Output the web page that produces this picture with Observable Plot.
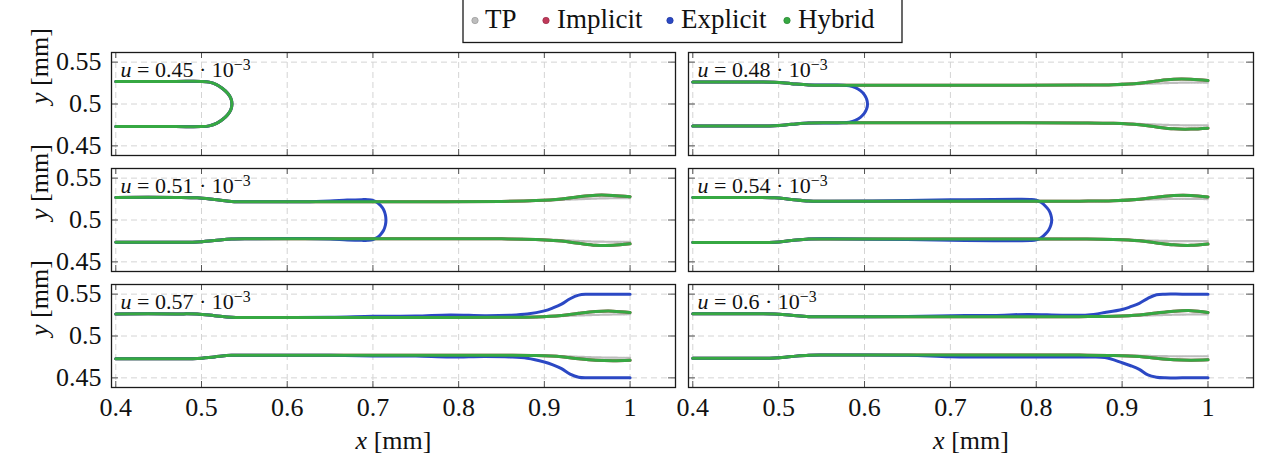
<!DOCTYPE html>
<html>
<head>
<meta charset="utf-8">
<script src="https://cdn.jsdelivr.net/npm/d3@7"></script>
<script src="https://cdn.jsdelivr.net/npm/@observablehq/plot@0.6"></script>
<style>
  body { margin: 0; background: #fff; }
  #chart { position: relative; width: 1261px; height: 468px; overflow: hidden; background: #fff; }
  #chart svg { position: absolute; }
</style>
</head>
<body>
<div id="chart"></div>
<script>
// ---------- categories / ticks ----------
const series = ["TP", "Implicit", "Explicit", "Hybrid"];
const seriesColors = ["#bdbdbd", "#c0395a", "#2b48c4", "#36a842"];
const loads = ["0.45", "0.48", "0.51", "0.54", "0.57", "0.6"];
const xTicks = [0.4, 0.5, 0.6, 0.7, 0.8, 0.9, 1];
const yTicks = [0.45, 0.5, 0.55];

// ---------- u = 0.45e-3 : all methods give the same short crack ----------
const tipX045 = [0.4, 0.47, 0.4995, 0.509, 0.5175, 0.5245, 0.5305, 0.5342, 0.5355, 0.5342, 0.5305, 0.5245, 0.5175, 0.509, 0.4995, 0.47, 0.4];
const tipY045 = [0.527, 0.527, 0.527, 0.5261, 0.5232, 0.5185, 0.5128, 0.5068, 0.5, 0.4932, 0.4872, 0.4815, 0.4768, 0.4739, 0.473, 0.473, 0.473];

// ---------- x stations of the full-length crack faces ----------
const xFace = [0.4, 0.47, 0.495, 0.515, 0.535, 0.56, 0.65, 0.75, 0.85, 0.89, 0.92, 0.94, 0.96, 0.98, 1.0];

// Hybrid (and Implicit, which lies underneath) crack faces
const hybUp048 = [0.5262, 0.5262, 0.526, 0.5243, 0.5228, 0.5225, 0.5225, 0.5225, 0.5226, 0.5231, 0.5248, 0.5275, 0.5295, 0.5295, 0.528];
const hybLo048 = [0.4738, 0.4738, 0.474, 0.4757, 0.4772, 0.4775, 0.4775, 0.4775, 0.4774, 0.4769, 0.4752, 0.4725, 0.4703, 0.47, 0.4711];
const hybUp051 = [0.527, 0.527, 0.5265, 0.5245, 0.5222, 0.5218, 0.5218, 0.5218, 0.5222, 0.5232, 0.5252, 0.5278, 0.5296, 0.5294, 0.5278];
const hybLo051 = [0.4735, 0.4735, 0.4737, 0.4755, 0.4774, 0.4777, 0.4777, 0.4777, 0.4775, 0.4768, 0.4748, 0.4722, 0.4699, 0.4698, 0.4715];
const hybUp054 = [0.5268, 0.5268, 0.5265, 0.5245, 0.5226, 0.5224, 0.5224, 0.5224, 0.5225, 0.523, 0.5248, 0.5272, 0.5292, 0.5293, 0.5276];
const hybLo054 = [0.4732, 0.4732, 0.4735, 0.4755, 0.4772, 0.4774, 0.4774, 0.4774, 0.4773, 0.4768, 0.4752, 0.4726, 0.4703, 0.4697, 0.4712];
const hybUp057 = [0.5264, 0.5264, 0.5262, 0.5243, 0.5223, 0.5221, 0.5221, 0.5222, 0.5223, 0.5227, 0.5245, 0.5272, 0.5293, 0.5297, 0.528];
const hybLo057 = [0.4729, 0.4729, 0.4731, 0.475, 0.4769, 0.4771, 0.4771, 0.4771, 0.4769, 0.4766, 0.4752, 0.4728, 0.471, 0.4704, 0.4709];
const hybUp060 = [0.5266, 0.5266, 0.5264, 0.5247, 0.5231, 0.523, 0.523, 0.523, 0.5231, 0.5235, 0.525, 0.5275, 0.5296, 0.5303, 0.5281];
const hybLo060 = [0.4734, 0.4734, 0.4736, 0.4755, 0.4771, 0.4773, 0.4773, 0.4773, 0.4772, 0.4768, 0.4755, 0.4733, 0.4716, 0.4711, 0.4715];

// TP crack faces
const tpUp048 = [0.5262, 0.5262, 0.526, 0.5243, 0.5228, 0.5225, 0.5225, 0.5225, 0.5226, 0.5229, 0.5238, 0.5245, 0.5252, 0.5256, 0.5255];
const tpLo048 = [0.4738, 0.4738, 0.474, 0.4757, 0.4772, 0.4775, 0.4775, 0.4775, 0.4774, 0.4771, 0.4762, 0.4755, 0.4748, 0.4745, 0.4745];
const tpUp051 = [0.527, 0.527, 0.5265, 0.5245, 0.5222, 0.5218, 0.5218, 0.5218, 0.5222, 0.5228, 0.524, 0.5248, 0.5256, 0.526, 0.526];
const tpLo051 = [0.4735, 0.4735, 0.4737, 0.4755, 0.4774, 0.4777, 0.4777, 0.4777, 0.4775, 0.4771, 0.476, 0.475, 0.4742, 0.474, 0.474];
const tpUp054 = [0.5268, 0.5268, 0.5265, 0.5245, 0.5226, 0.5224, 0.5224, 0.5224, 0.5225, 0.5228, 0.524, 0.5247, 0.5252, 0.5252, 0.525];
const tpLo054 = [0.4732, 0.4732, 0.4735, 0.4755, 0.4772, 0.4774, 0.4774, 0.4774, 0.4773, 0.4771, 0.476, 0.4753, 0.4748, 0.4747, 0.4747];
const tpUp057 = [0.5264, 0.5264, 0.5262, 0.5243, 0.5223, 0.5221, 0.5221, 0.5222, 0.5223, 0.5226, 0.5238, 0.5245, 0.5252, 0.5257, 0.526];
const tpLo057 = [0.4729, 0.4729, 0.4731, 0.475, 0.4769, 0.4771, 0.4771, 0.4771, 0.4769, 0.4767, 0.476, 0.4752, 0.4745, 0.4741, 0.474];
const tpUp060 = [0.5266, 0.5266, 0.5264, 0.5247, 0.5231, 0.523, 0.523, 0.523, 0.5231, 0.5233, 0.5241, 0.5248, 0.5254, 0.5257, 0.5258];
const tpLo060 = [0.4734, 0.4734, 0.4736, 0.4755, 0.4771, 0.4773, 0.4773, 0.4773, 0.4772, 0.477, 0.4765, 0.476, 0.4758, 0.4758, 0.4758];

// Explicit: crack tip contours (closed around the tip)
const expTipX048 = [0.4, 0.47, 0.495, 0.515, 0.535, 0.56, 0.575, 0.5824, 0.5893, 0.5952, 0.5997, 0.6025, 0.6035, 0.6025, 0.5997, 0.5952, 0.5893, 0.5824, 0.575, 0.56, 0.535, 0.515, 0.495, 0.47, 0.4];
const expTipY048 = [0.5262, 0.5262, 0.526, 0.5243, 0.5228, 0.5226, 0.5225, 0.5217, 0.5195, 0.5159, 0.5113, 0.5058, 0.5, 0.4942, 0.4887, 0.4841, 0.4805, 0.4783, 0.4775, 0.4774, 0.4772, 0.4757, 0.474, 0.4738, 0.4738];
const expTipX051 = [0.4, 0.47, 0.495, 0.515, 0.535, 0.56, 0.62, 0.65, 0.67, 0.687, 0.694, 0.7, 0.705, 0.709, 0.7125, 0.7145, 0.7152, 0.7145, 0.7125, 0.709, 0.705, 0.7, 0.694, 0.687, 0.67, 0.65, 0.62, 0.56, 0.535, 0.515, 0.495, 0.47, 0.4];
const expTipY051 = [0.527, 0.527, 0.5265, 0.5245, 0.5222, 0.5218, 0.5219, 0.5228, 0.5238, 0.5243, 0.5243, 0.5235, 0.521, 0.5172, 0.5122, 0.5063, 0.5, 0.4937, 0.4878, 0.4828, 0.479, 0.4765, 0.4757, 0.4757, 0.4762, 0.4772, 0.4779, 0.4777, 0.4774, 0.4755, 0.4737, 0.4735, 0.4735];
const expTipX054 = [0.4, 0.47, 0.495, 0.515, 0.535, 0.56, 0.65, 0.7, 0.75, 0.78, 0.793, 0.8, 0.806, 0.8105, 0.8145, 0.817, 0.818, 0.817, 0.8145, 0.8105, 0.806, 0.8, 0.793, 0.78, 0.75, 0.7, 0.65, 0.56, 0.535, 0.515, 0.495, 0.47, 0.4];
const expTipY054 = [0.5268, 0.5268, 0.5265, 0.5245, 0.5226, 0.5224, 0.5233, 0.5241, 0.5246, 0.5248, 0.5246, 0.5238, 0.5208, 0.5168, 0.512, 0.5062, 0.5, 0.4938, 0.488, 0.4832, 0.4792, 0.4762, 0.4754, 0.4752, 0.4753, 0.4758, 0.4766, 0.4776, 0.4774, 0.4755, 0.4735, 0.4732, 0.4732];

// Explicit: fully branched crack faces
const xExp = [0.4, 0.47, 0.495, 0.515, 0.535, 0.56, 0.65, 0.7, 0.75, 0.79, 0.83, 0.86, 0.88, 0.9, 0.91, 0.92, 0.93, 0.94, 0.95, 0.97, 1.0];
const expUp057 = [0.5264, 0.5264, 0.5262, 0.5243, 0.5223, 0.5221, 0.5224, 0.5235, 0.5238, 0.5252, 0.5243, 0.5248, 0.5262, 0.53, 0.5335, 0.538, 0.5445, 0.5488, 0.5498, 0.5498, 0.5498];
const expLo057 = [0.4729, 0.4729, 0.4731, 0.475, 0.4769, 0.4771, 0.477, 0.4762, 0.476, 0.4748, 0.4755, 0.475, 0.4735, 0.4689, 0.4655, 0.461, 0.4545, 0.4508, 0.4501, 0.4501, 0.4501];
const expUp060 = [0.5266, 0.5266, 0.5264, 0.5247, 0.5231, 0.523, 0.5233, 0.5243, 0.5245, 0.5258, 0.5249, 0.5252, 0.528, 0.5316, 0.535, 0.539, 0.545, 0.5492, 0.55, 0.55, 0.55];
const expLo060 = [0.4734, 0.4734, 0.4736, 0.4755, 0.4771, 0.4773, 0.4771, 0.4752, 0.475, 0.4748, 0.475, 0.4748, 0.4742, 0.468, 0.4645, 0.4602, 0.4535, 0.4508, 0.45, 0.45, 0.45];

// ---------- build per-panel tables ----------
const zip = (xs, ys) => xs.map((x, i) => [x, ys[i]]);
function panelCurves(i) {
  const c = {TP: [], Implicit: [], Explicit: [], Hybrid: []};
  if (i === 0) {
    const tip = zip(tipX045, tipY045);
    for (const s of series) c[s].push(tip);
    return c;
  }
  const hU = [null, hybUp048, hybUp051, hybUp054, hybUp057, hybUp060][i];
  const hL = [null, hybLo048, hybLo051, hybLo054, hybLo057, hybLo060][i];
  const tU = [null, tpUp048, tpUp051, tpUp054, tpUp057, tpUp060][i];
  const tL = [null, tpLo048, tpLo051, tpLo054, tpLo057, tpLo060][i];
  c.TP.push(zip(xFace, tU), zip(xFace, tL));
  c.Implicit.push(zip(xFace, hU), zip(xFace, hL));
  c.Hybrid.push(zip(xFace, hU), zip(xFace, hL));
  if (i === 1) c.Explicit.push(zip(expTipX048, expTipY048));
  if (i === 2) c.Explicit.push(zip(expTipX051, expTipY051));
  if (i === 3) c.Explicit.push(zip(expTipX054, expTipY054));
  if (i === 4) c.Explicit.push(zip(xExp, expUp057), zip(xExp, expLo057));
  if (i === 5) c.Explicit.push(zip(xExp, expUp060), zip(xExp, expLo060));
  return c;
}

const FONT = "Liberation Serif";
const frameTops = [52, 168, 284];
const innerH = 103;

function mathify(svg) {
  d3.select(svg).selectAll("text").each(function () {
    const s = this.textContent;
    let m;
    if ((m = /^u = (.+) · 10−3$/.exec(s))) {
      const el = d3.select(this).text(null);
      el.append("tspan").attr("font-style", "italic").text("u");
      el.append("tspan").text(" = " + m[1] + " · 10");
      el.append("tspan").attr("dy", "-0.42em").attr("font-size", "0.72em").text("−3");
    } else if (/^[xy] \[mm\]$/.test(s)) {
      const el = d3.select(this).text(null);
      el.append("tspan").attr("font-style", "italic").text(s[0]);
      el.append("tspan").text(s.slice(1));
    }
  });
}

const chart = document.getElementById("chart");

for (let i = 0; i < 6; i++) {
  const col = i % 2, row = Math.floor(i / 2);
  const isLeft = col === 0, isBottom = row === 2;
  const width = isLeft ? 680 : 581;
  const marginLeft = isLeft ? 111 : 8;
  const marginRight = isLeft ? 5 : 8;
  const marginTop = 6;
  const marginBottom = isBottom ? 76 : 6;
  const height = marginTop + innerH + marginBottom;
  const innerW = width - marginLeft - marginRight;

  const curves = panelCurves(i);
  const rows = [];
  series.forEach((s) => curves[s].forEach((pts, k) => pts.forEach(([x, y]) => rows.push({s, k, x, y}))));

  const marks = [
    Plot.gridX(xTicks, {stroke: "#d4d4d4", strokeOpacity: 1, strokeDasharray: "6,4"}),
    Plot.gridY(yTicks, {stroke: "#d4d4d4", strokeOpacity: 1, strokeDasharray: "6,4"}),
    Plot.tickX(xTicks, {x: (d) => d, stroke: "#555", insetBottom: innerH - 6}),
    Plot.tickX(xTicks, {x: (d) => d, stroke: "#555", insetTop: innerH - 6}),
    Plot.tickY(yTicks, {y: (d) => d, stroke: "#555", insetRight: innerW - 7}),
    Plot.tickY(yTicks, {y: (d) => d, stroke: "#555", insetLeft: innerW - 7})
  ];
  series.forEach((s, j) => {
    marks.push(Plot.line(rows.filter((r) => r.s === s), {
      x: "x", y: "y", z: "k",
      stroke: seriesColors[j],
      strokeWidth: s === "TP" ? 2.2 : 3,
      strokeDasharray: s === "TP" ? "2,1" : null,
      curve: "catmull-rom"
    }));
  });
  marks.push(Plot.frame({stroke: "#1a1a1a", strokeWidth: 1.3}));
  marks.push(Plot.text([`u = ${loads[i]} · 10−3`], {
    text: (d) => d, frameAnchor: "top-left", textAnchor: "start", lineAnchor: "top",
    dx: 9, dy: 9, fontSize: 22, fontFamily: FONT, fill: "#111"
  }));
  if (isLeft) {
    marks.push(Plot.axisY({ticks: yTicks, tickSize: 0, tickPadding: 10, tickFormat: (d) => `${d}`, label: null,
      fill: "#111", fontSize: 26, fontFamily: FONT}));
    marks.push(Plot.text(["y [mm]"], {
      text: (d) => d, frameAnchor: "left", rotate: -90, dx: -72, lineAnchor: "middle", fontSize: 26, fontFamily: FONT, fill: "#111"
    }));
  }
  if (isBottom) {
    marks.push(Plot.axisX({ticks: xTicks, tickSize: 0, tickPadding: 10, tickFormat: (d) => `${d}`, label: null,
      fill: "#111", fontSize: 26, fontFamily: FONT}));
    marks.push(Plot.text(["x [mm]"], {
      text: (d) => d, frameAnchor: "bottom", dy: 53, lineAnchor: "middle", fontSize: 26, fontFamily: FONT, fill: "#111"
    }));
  }

  const svg = Plot.plot({
    width, height, marginLeft, marginRight, marginTop, marginBottom,
    x: {domain: [0.395, 1.053], axis: isBottom ? undefined : null},
    y: {domain: [0.4385, 0.5615], axis: isLeft ? undefined : null},
    style: {fontFamily: FONT, fontSize: "26px", color: "#111", background: "transparent", overflow: "visible"},
    marks
  });
  mathify(svg);
  svg.style.left = (isLeft ? 0 : 680) + "px";
  svg.style.top = (frameTops[row] - marginTop) + "px";
  chart.appendChild(svg);
}

// ---------- legend ----------
const legendMarkerX = [13, 84, 208, 325];
const legendTextX = [23, 95, 219, 336];
const leg = d3.create("svg")
  .attr("width", 441).attr("height", 45)
  .style("left", "462px").style("top", "0px").style("position", "absolute");
leg.append("rect").attr("x", 1).attr("y", -5).attr("width", 439).attr("height", 47.5)
  .attr("fill", "#fff").attr("stroke", "#1a1a1a").attr("stroke-width", 1.3);
series.forEach((s, j) => {
  leg.append("circle").attr("cx", legendMarkerX[j]).attr("cy", 20.5).attr("r", 3.2)
    .attr("fill", seriesColors[j]).attr("stroke", d3.color(seriesColors[j]).darker(0.6)).attr("stroke-width", 0.7);
  leg.append("text").attr("x", legendTextX[j]).attr("y", 27.5)
    .attr("font-family", FONT).attr("font-size", 27).attr("fill", "#111").text(s);
});
chart.appendChild(leg.node());
</script>
</body>
</html>
